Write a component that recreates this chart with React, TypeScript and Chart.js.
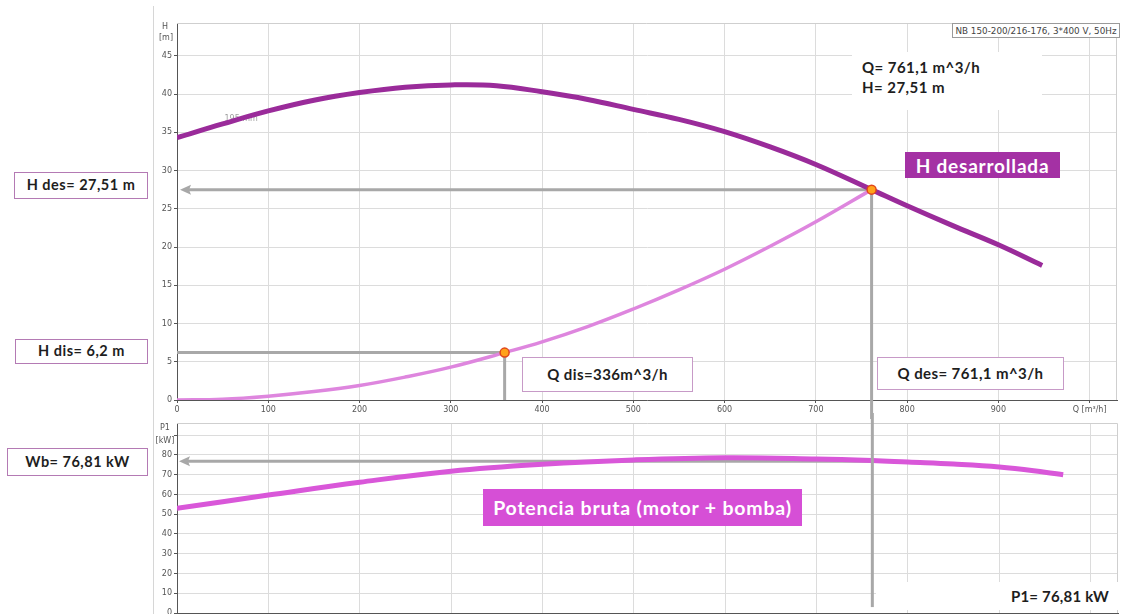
import React, { useEffect, useRef } from "react";
import { Chart, registerables } from "chart.js";

Chart.register(...registerables);

// ---- data ----
const qHead = [0, 50, 100, 150, 200, 250, 300, 350, 400, 450, 500, 550, 600, 650, 700, 761.1, 800, 850, 900, 948];
const headDev = [34.3, 36.1, 37.8, 39.2, 40.2, 40.9, 41.2, 41.1, 40.3, 39.3, 38.0, 36.7, 35.1, 33.1, 30.8, 27.51, 25.4, 22.8, 20.3, 17.6];

const qSystem = [0, 50, 100, 150, 200, 250, 300, 359, 400, 450, 500, 550, 600, 650, 700, 761.1];
const headSystem = [0, 0.1, 0.5, 1.1, 1.9, 3.0, 4.3, 6.2, 7.6, 9.6, 11.9, 14.4, 17.1, 20.1, 23.3, 27.51];

const qPower = [0, 100, 200, 300, 400, 500, 600, 700, 761.1, 800, 850, 900, 950, 970];
const powerP1 = [53.0, 59.7, 66.2, 71.8, 75.3, 77.5, 78.6, 78.0, 77.2, 76.4, 75.4, 73.9, 71.3, 70.0];

const Q_DES = 761.1;
const H_DES = 27.51;
const P_DES = 76.81;
const Q_DIS = 359;
const H_DIS = 6.2;
const P_LINE_END = 3;

const X_MAX = 1030;
const H_MAX = 49.3;
const P_MAX = 96.2;
const X_STEP = 100;
const H_STEP = 5;
const P_STEP = 10;
const X_LAST_LABEL = "Q [m³/h]";
const P_HIDDEN_TICK = 90;

const TICK_FONT = { size: 8, family: "'DejaVu Sans', sans-serif" };
const GRID = "#dcdcdc";
const AXIS = "#555";
const REF = "#a8a8a8";

function toXY(xs: number[], ys: number[]) {
  return xs.map((x, i) => ({ x, y: ys[i] }));
}

function arrowLeft(ctx: CanvasRenderingContext2D, x: number, y: number) {
  ctx.beginPath();
  ctx.moveTo(x, y);
  ctx.lineTo(x + 11, y - 5);
  ctx.lineTo(x + 9, y);
  ctx.lineTo(x + 11, y + 5);
  ctx.closePath();
  ctx.fill();
}

function frame(chart: any) {
  const { ctx, chartArea: a } = chart;
  ctx.save();
  ctx.strokeStyle = "#cfcfcf";
  ctx.lineWidth = 1;
  ctx.beginPath();
  ctx.moveTo(a.left, a.top + 0.5);
  ctx.lineTo(a.right - 0.5, a.top + 0.5);
  ctx.lineTo(a.right - 0.5, a.bottom);
  ctx.stroke();
  ctx.strokeStyle = "#d6d6d6";
  ctx.beginPath();
  ctx.moveTo(153.5, 6);
  ctx.lineTo(153.5, chart.height);
  ctx.stroke();
  ctx.restore();
}

const topPlugin = {
  id: "topAnno",
  beforeDatasetsDraw(chart: any) {
    const { ctx, chartArea: a, scales } = chart;
    const x = scales.x;
    const y = scales.y;
    frame(chart);
    ctx.save();
    ctx.fillStyle = AXIS;
    ctx.font = "8px 'DejaVu Sans'";
    ctx.textAlign = "center";
    ctx.textBaseline = "middle";
    ctx.fillText("H", a.left - 12, a.top + 4);
    ctx.fillText("[m]", a.left - 11, a.top + 15);
    ctx.fillStyle = "#a0a0a0";
    ctx.textAlign = "left";
    ctx.fillText("195 mm", x.getPixelForValue(52), y.getPixelForValue(36.8));

    const x0 = x.getPixelForValue(0);
    const gx = x.getPixelForValue(Q_DES);
    const gy = y.getPixelForValue(H_DES);
    ctx.strokeStyle = REF;
    ctx.fillStyle = REF;
    ctx.lineWidth = 3;
    ctx.beginPath();
    ctx.moveTo(gx, gy);
    ctx.lineTo(x0 + 8, gy);
    ctx.stroke();
    arrowLeft(ctx, x0 + 3, gy);
    ctx.beginPath();
    ctx.moveTo(gx, gy);
    ctx.lineTo(gx, chart.height);
    ctx.stroke();

    const dx = x.getPixelForValue(Q_DIS);
    const dy = y.getPixelForValue(H_DIS);
    ctx.beginPath();
    ctx.moveTo(x0, dy);
    ctx.lineTo(dx, dy);
    ctx.moveTo(dx, dy);
    ctx.lineTo(dx, y.getPixelForValue(0));
    ctx.stroke();
    ctx.restore();
  },
};

const bottomPlugin = {
  id: "bottomAnno",
  beforeDatasetsDraw(chart: any) {
    const { ctx, chartArea: a, scales } = chart;
    const x = scales.x;
    const y = scales.y;
    frame(chart);
    ctx.save();
    ctx.fillStyle = AXIS;
    ctx.font = "8px 'DejaVu Sans'";
    ctx.textAlign = "center";
    ctx.textBaseline = "middle";
    ctx.fillText("P1", a.left - 12, a.top + 5);
    ctx.fillText("[kW]", a.left - 12, a.top + 18);

    const x0 = x.getPixelForValue(0);
    const gx = x.getPixelForValue(Q_DES);
    const gy = y.getPixelForValue(P_DES);
    ctx.strokeStyle = REF;
    ctx.fillStyle = REF;
    ctx.lineWidth = 3;
    ctx.beginPath();
    ctx.moveTo(gx, gy);
    ctx.lineTo(x0 + 8, gy);
    ctx.stroke();
    arrowLeft(ctx, x0 + 2, gy);
    ctx.restore();
  },
  afterDatasetsDraw(chart: any) {
    const { ctx, scales } = chart;
    const x = scales.x;
    const y = scales.y;
    const gx = x.getPixelForValue(Q_DES);
    ctx.save();
    ctx.strokeStyle = REF;
    ctx.lineWidth = 3;
    ctx.beginPath();
    ctx.moveTo(gx, 0);
    ctx.lineTo(gx, y.getPixelForValue(P_LINE_END));
    ctx.stroke();
    ctx.restore();
  },
};

function xScale(showLabels: boolean, height: number) {
  return {
    type: "linear",
    min: 0,
    max: X_MAX,
    afterFit: (s: any) => {
      s.height = height;
    },
    ticks: {
      display: showLabels,
      stepSize: X_STEP,
      includeBounds: false,
      autoSkip: false,
      maxRotation: 0,
      padding: 2,
      color: AXIS,
      font: TICK_FONT,
      callback: (v: any) => (v === 1000 ? X_LAST_LABEL : String(v)),
    },
    grid: {
      color: GRID,
      lineWidth: 1,
      drawTicks: showLabels,
      tickLength: 3,
      tickColor: AXIS,
    },
    border: { display: true, color: AXIS, width: 1 },
  };
}

function yScale(max: number, step: number, hidden?: number) {
  return {
    type: "linear",
    min: 0,
    max,
    afterFit: (s: any) => {
      s.width = 30;
    },
    ticks: {
      stepSize: step,
      includeBounds: false,
      padding: 2,
      color: AXIS,
      font: TICK_FONT,
      callback: (v: any) => (v === hidden ? "" : String(v)),
    },
    grid: {
      color: GRID,
      lineWidth: 1,
      drawTicks: true,
      tickLength: 3,
      tickColor: AXIS,
    },
    border: { display: true, color: AXIS, width: 1 },
  };
}

const common = {
  responsive: false,
  animation: false,
  devicePixelRatio: 1,
  plugins: { legend: { display: false }, tooltip: { enabled: false } },
  elements: { point: { radius: 0 } },
};

function TopChart() {
  const ref = useRef<HTMLCanvasElement | null>(null);
  useEffect(() => {
    if (!ref.current) return;
    const chart = new Chart(ref.current, {
      type: "line",
      data: {
        datasets: [
          {
            label: "points",
            data: [
              { x: Q_DES, y: H_DES },
              { x: Q_DIS, y: H_DIS },
            ],
            showLine: false,
            pointRadius: 4.5,
            pointBackgroundColor: "#ffa21a",
            pointBorderColor: "#e0461a",
            pointBorderWidth: 1.5,
          },
          {
            label: "H desarrollada",
            data: toXY(qHead, headDev),
            borderColor: "#9a2b9a",
            borderWidth: 5,
            pointRadius: 0,
            tension: 0.4,
          },
          {
            label: "Curva sistema",
            data: toXY(qSystem, headSystem),
            borderColor: "#de86de",
            borderWidth: 3.5,
            pointRadius: 0,
            tension: 0.4,
          },
        ],
      },
      options: {
        ...common,
        layout: { padding: { left: 147, right: 5, top: 23, bottom: 0 } },
        scales: { x: xScale(true, 19), y: yScale(H_MAX, H_STEP) },
      } as any,
      plugins: [topPlugin],
    });
    return () => chart.destroy();
  }, []);
  return (
    <canvas
      ref={ref}
      width={1123}
      height={419}
      style={{ position: "absolute", left: 0, top: 0, width: 1123, height: 419 }}
    />
  );
}

function BottomChart() {
  const ref = useRef<HTMLCanvasElement | null>(null);
  useEffect(() => {
    if (!ref.current) return;
    const chart = new Chart(ref.current, {
      type: "line",
      data: {
        datasets: [
          {
            label: "Potencia bruta",
            data: toXY(qPower, powerP1),
            borderColor: "#d957d9",
            borderWidth: 5,
            pointRadius: 0,
            tension: 0.4,
          },
        ],
      },
      options: {
        ...common,
        layout: { padding: { left: 147, right: 5, top: 10, bottom: 0 } },
        scales: { x: xScale(false, 8), y: yScale(P_MAX, P_STEP, P_HIDDEN_TICK) },
      } as any,
      plugins: [bottomPlugin],
    });
    return () => chart.destroy();
  }, []);
  return (
    <canvas
      ref={ref}
      width={1123}
      height={208}
      style={{ position: "absolute", left: 0, top: 413, width: 1123, height: 208 }}
    />
  );
}

const FONT = "Lato, 'Open Sans', sans-serif";

function Box(props: {
  text: string;
  left: number;
  top: number;
  width: number;
  height: number;
  size?: number;
  ls?: number;
  bg?: string;
  color?: string;
  border?: string;
  align?: "center" | "right" | "left";
  pad?: number;
}) {
  const { text, left, top, width, height, size = 14.5, ls = 0.5, bg = "#fff", color = "#1e1e1e", border, align = "center", pad = 0 } = props;
  return (
    <div
      style={{
        position: "absolute",
        left,
        top,
        width,
        height,
        boxSizing: "border-box",
        background: bg,
        border: border || "none",
        color,
        fontFamily: FONT,
        fontWeight: 700,
        fontSize: size,
        letterSpacing: ls,
        display: "flex",
        alignItems: "center",
        justifyContent: align === "center" ? "center" : align === "right" ? "flex-end" : "flex-start",
        paddingRight: align === "right" ? pad : 0,
        paddingLeft: align === "left" ? pad : 0,
        whiteSpace: "nowrap",
        lineHeight: 1,
      }}
    >
      {text}
    </div>
  );
}

export default function App() {
  return (
    <div
      style={{
        position: "fixed",
        left: 0,
        top: 0,
        width: 1123,
        height: 614,
        overflow: "hidden",
        background: "#fff",
      }}
    >
      <TopChart />
      <BottomChart />

      {/* info box top right */}
      <div
        style={{
          position: "absolute",
          left: 952,
          top: 23,
          width: 168,
          height: 15,
          boxSizing: "border-box",
          border: "1px solid #9a9a9a",
          background: "#fff",
          fontFamily: "'DejaVu Sans', sans-serif",
          fontSize: 8.8,
          color: "#444",
          display: "flex",
          alignItems: "center",
          justifyContent: "center",
          whiteSpace: "nowrap",
        }}
      >
        NB 150-200/216-176, 3*400 V, 50Hz
      </div>

      <div
        style={{
          position: "absolute",
          left: 852,
          top: 52,
          width: 190,
          height: 58,
          background: "#fff",
          fontFamily: FONT,
          fontWeight: 700,
          fontSize: 15,
          letterSpacing: 0.45,
          color: "#1e1e1e",
          lineHeight: "20px",
          paddingLeft: 10,
          paddingTop: 5,
          boxSizing: "border-box",
        }}
      >
        <div>Q= 761,1 m^3/h</div>
        <div>H= 27,51 m</div>
      </div>

      <Box text="H desarrollada" left={905} top={152} width={155} height={26} size={19} ls={0.8} bg="#a431a4" color="#fff" />
      <Box text="Potencia bruta (motor + bomba)" left={483} top={489} width={319} height={37} size={19.5} ls={0.8} bg="#d64fd6" color="#fff" />

      <Box text="H des= 27,51 m" left={14} top={172} width={134} height={27} border="1px solid #b47ab4" />
      <Box text="H dis= 6,2 m" left={15} top={339} width={133} height={25} border="1px solid #b47ab4" />
      <Box text="Wb= 76,81 kW" left={7} top={448} width={141} height={28} border="1px solid #b47ab4" />
      <Box text="Q dis=336m^3/h" left={522} top={357} width={171} height={35} size={15} ls={0.4} border="1px solid #c79ac7" />
      <Box text="Q des= 761,1 m^3/h" left={877} top={357} width={187} height={33} size={15} ls={0.4} border="1px solid #c79ac7" />
      <Box text="P1= 76,81 kW" left={876} top={582} width={242} height={28} size={15} ls={0.2} align="right" pad={9} />
    </div>
  );
}
